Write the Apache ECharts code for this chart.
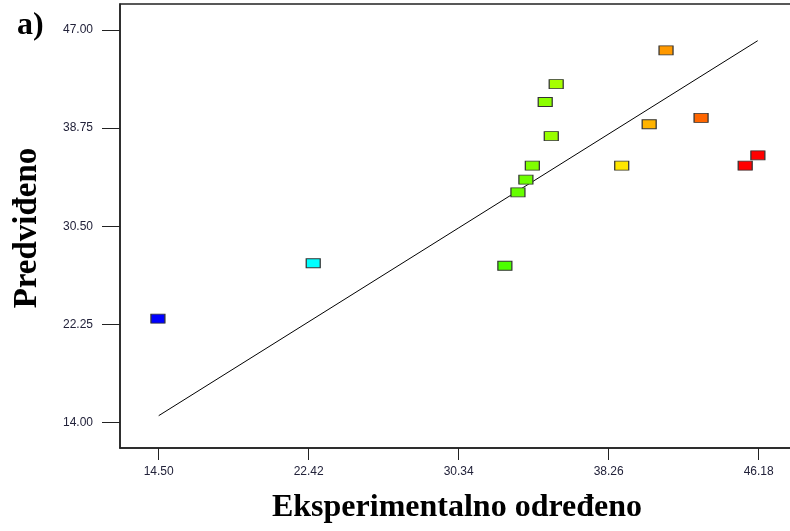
<!DOCTYPE html>
<html><head><meta charset="utf-8">
<script src="https://cdn.jsdelivr.net/npm/echarts@6/dist/echarts.min.js"></script>
<style>html,body{margin:0;padding:0;background:#fff}#c{width:790px;height:531px}</style>
</head><body><div id="c"></div>
<script>
const xTicks = [14.50, 22.42, 30.34, 38.26, 46.18];
const yTicks = [14.00, 22.25, 30.50, 38.75, 47.00];
const actual =    [14.46, 22.66, 32.78, 33.47, 33.89, 34.23, 34.91, 35.23, 35.49, 38.95, 40.40, 41.29, 43.14, 45.47, 46.14];
const predicted = [22.74, 27.40, 27.19, 33.36, 34.42, 35.60, 40.95, 38.09, 42.46, 35.60, 39.08, 45.29, 39.61, 35.60, 36.47];
const colors = ['#0000ff', '#00ffff', '#4cff00', '#66ff00', '#6eff00', '#80ff00', '#8cff00', '#99ff00', '#a6ff00', '#ffe600', '#ffb300', '#ff9900', '#ff6600', '#ff0000', '#ff0000'];
const fitX = [14.50, 46.13];
const fitY = [14.59, 46.10];

const chart = echarts.init(document.getElementById('c'));
const pts = actual.map((x, i) => ({value: [x, predicted[i]], itemStyle: {color: colors[i]}}));
chart.setOption({
  animation: false,
  grid: {left: 120, top: 4, width: 700, height: 444, outerBoundsMode: 'none', containLabel: false, show: true, borderColor: '#222', borderWidth: 1.5},
  xAxis: {
    type: 'value', min: 12.457, max: 49.42,
    splitLine: {show: false},
    axisLine: {show: true, onZero: false, lineStyle: {color: '#222', width: 1.5}},
    axisTick: {show: true, customValues: xTicks, length: 12, lineStyle: {color: '#222'}},
    axisLabel: {customValues: xTicks, formatter: v => v.toFixed(2), color: '#22223a', fontFamily: 'Liberation Sans', fontSize: 12, margin: 18},
  },
  yAxis: {
    type: 'value', min: 11.874, max: 49.185,
    splitLine: {show: false},
    axisLine: {show: true, onZero: false, lineStyle: {color: '#222', width: 1.5}},
    axisTick: {show: true, customValues: yTicks, length: 18, lineStyle: {color: '#222'}},
    axisLabel: {customValues: yTicks, formatter: v => v.toFixed(2), color: '#22223a', fontFamily: 'Liberation Sans', fontSize: 12, margin: 27},
  },
  series: [
    {type: 'line', data: fitX.map((x, i) => [x, fitY[i]]), symbol: 'none', lineStyle: {color: '#000', width: 1}, silent: true},
    {type: 'scatter', symbol: 'rect', symbolSize: [14, 9], data: pts, itemStyle: {borderColor: '#333', borderWidth: 1, opacity: 1}, z: 3}
  ],
  graphic: [
    {type: 'text', left: 17, top: 10, style: {text: 'a)', font: 'bold 32px "Liberation Serif"', fill: '#000'}},
    {type: 'text', x: 457, y: 508, style: {text: 'Eksperimentalno određeno', font: 'bold 32px "Liberation Serif"', fill: '#000', align: 'center', verticalAlign: 'middle'}},
    {type: 'text', x: 27, y: 228, rotation: Math.PI / 2, style: {text: 'Predviđeno', font: 'bold 33px "Liberation Serif"', fill: '#000', align: 'center', verticalAlign: 'middle'}}
  ]
});
</script></body></html>
